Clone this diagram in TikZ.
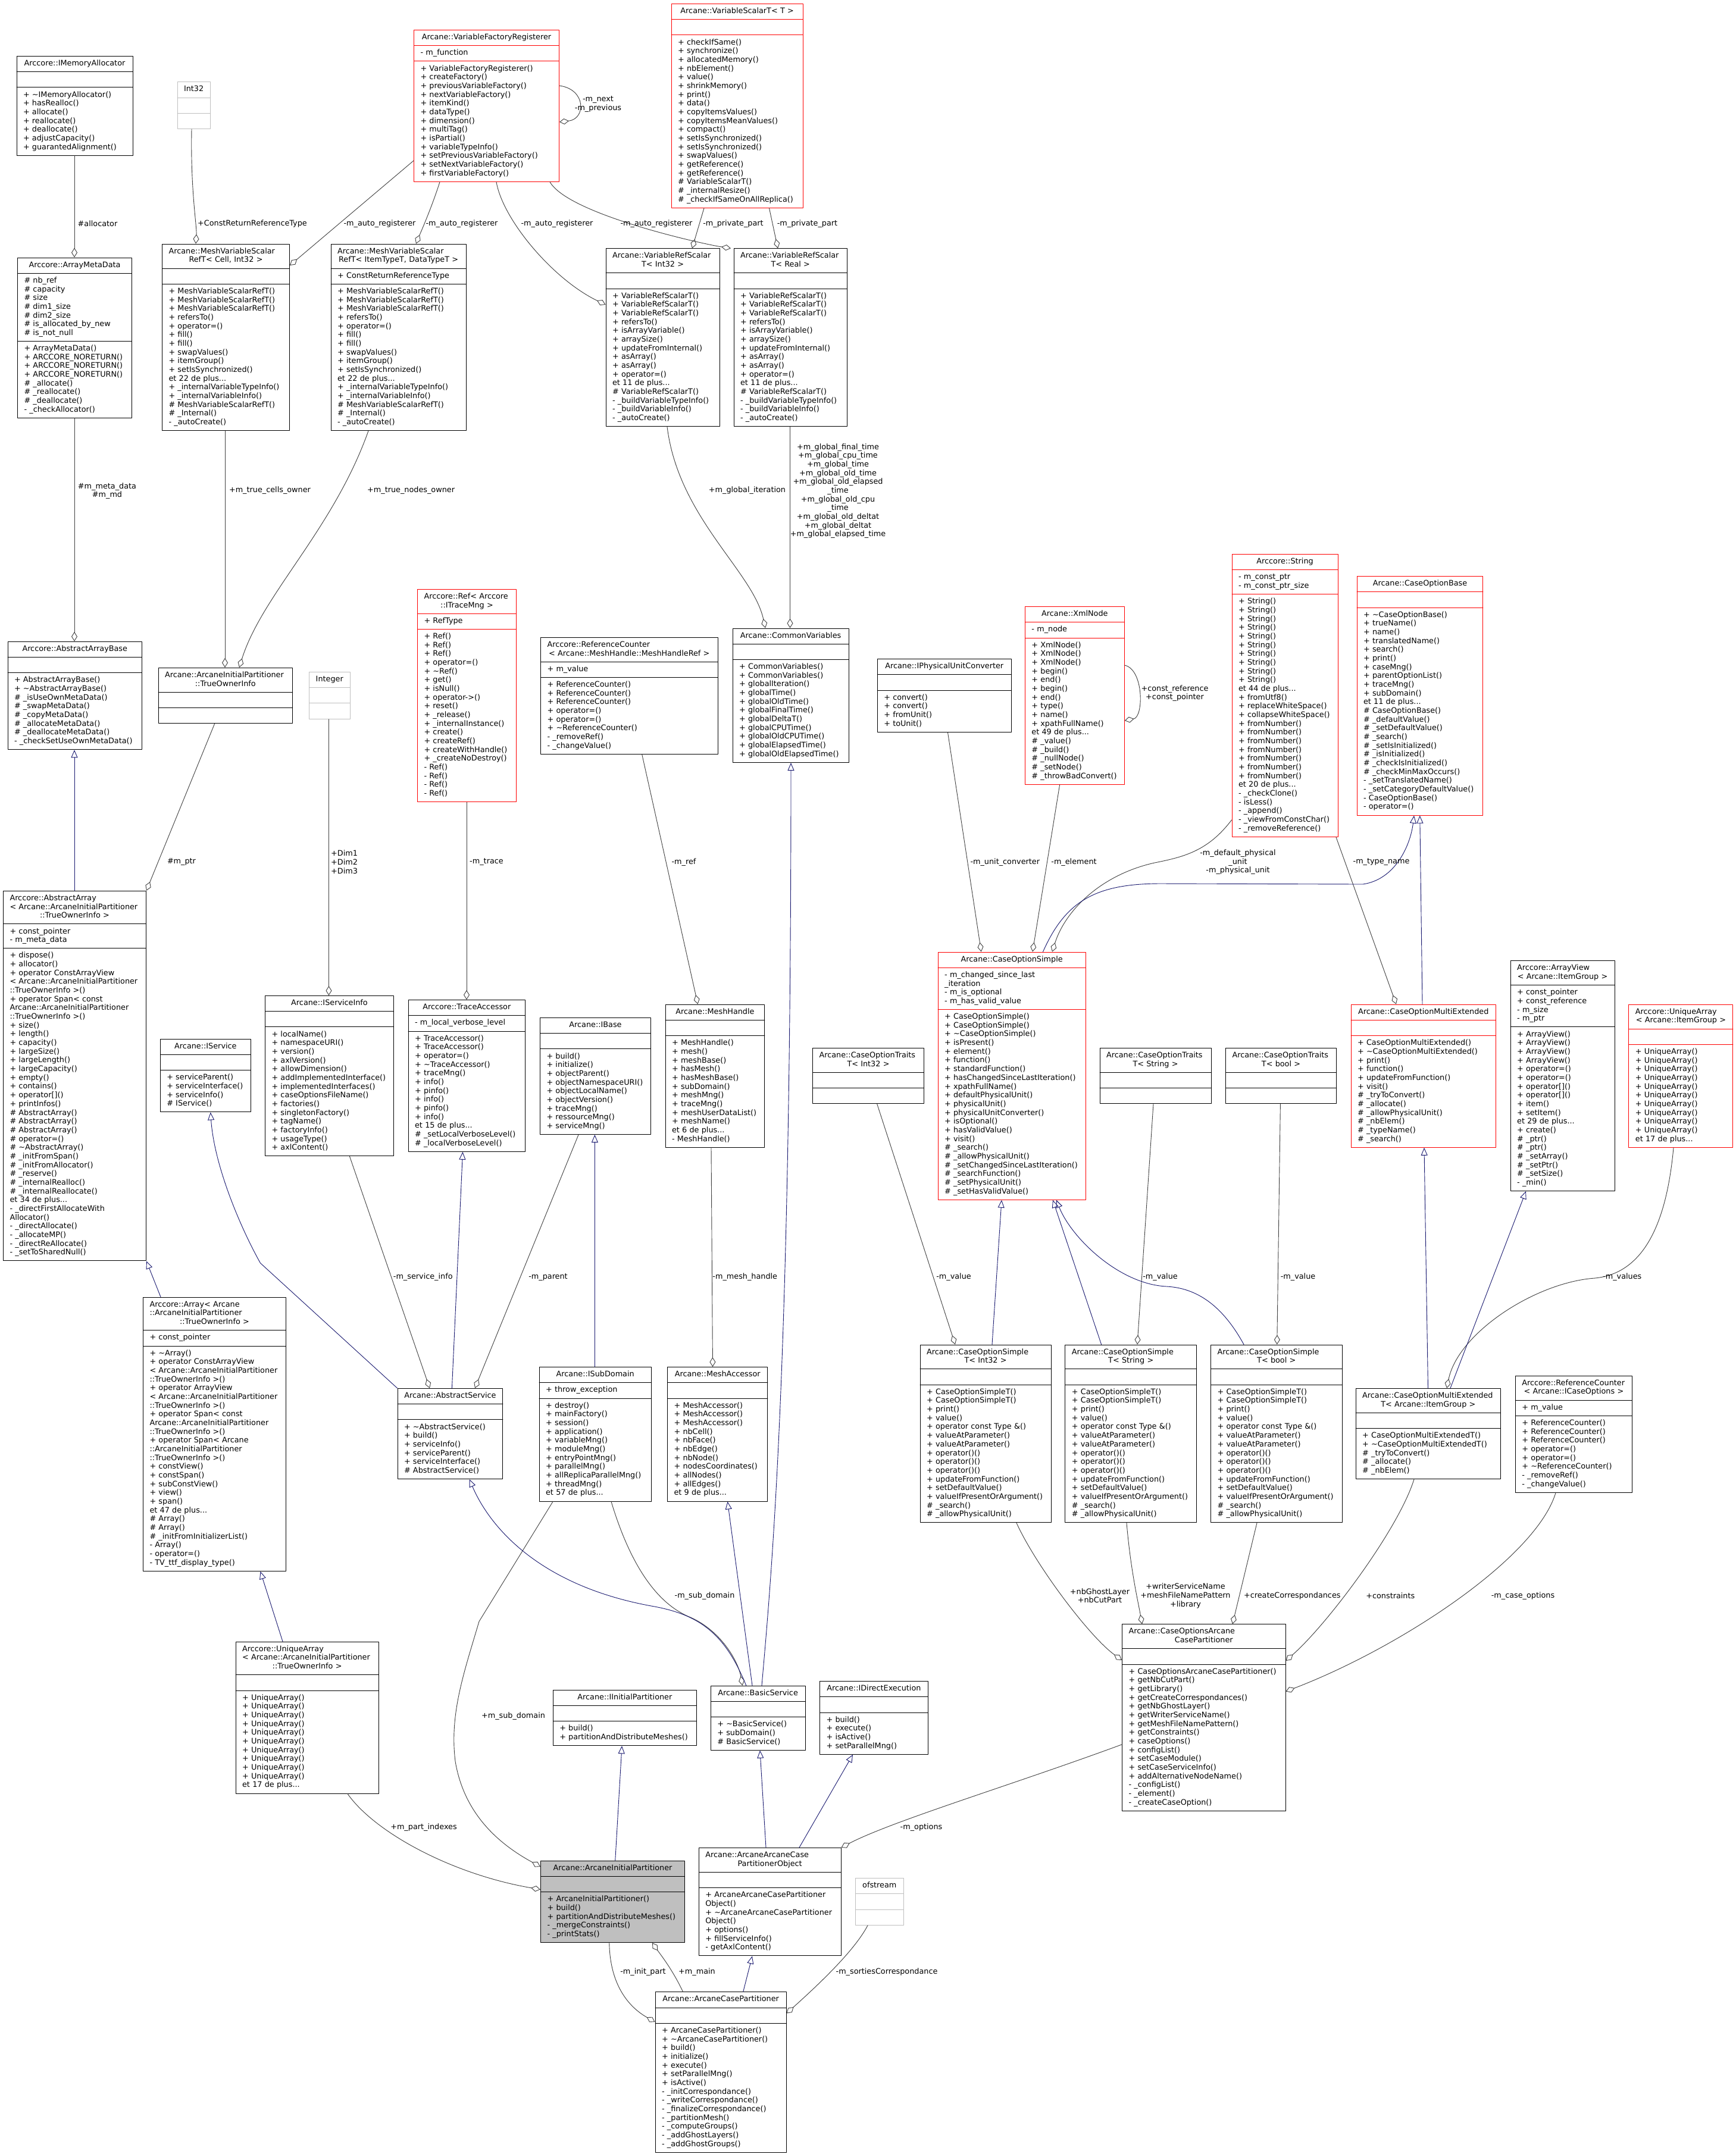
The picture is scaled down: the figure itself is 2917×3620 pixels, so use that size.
\documentclass[tikz,border=0pt]{standalone}
\usepackage{fontspec}
\setmainfont{DejaVu Sans}
\usepackage{tikz}
\usetikzlibrary{shapes.multipart,arrows.meta}
\definecolor{clsred}{HTML}{FF0000}
\definecolor{extgray}{HTML}{BFBFBF}
\definecolor{mainfill}{HTML}{BFBFBF}
\definecolor{edgegray}{HTML}{404040}
\definecolor{inhblue}{HTML}{191970}
\newcommand{\clsfont}{\fontsize{12.8}{14.67}\selectfont}
\newcommand{\tld}{\textasciitilde}
% title lines that doxygen left-justifies
\newcommand{\lcr}{\hfill\null\\}
\newcommand{\titlefmt}{\centering\leftskip=7pt plus 1fil\rightskip=7pt plus 1fil\relax}
\newcommand{\bodyfmt}{\raggedright\leftskip=7pt\rightskip=0pt plus 1fil\relax}
% one class box: [style]{name}{top left}{width}{title}{attributes}{methods}
% (the \par closes each part while its own layout is still in force)
\newcommand{\umlclass}[7][clsbox]{%
  \pgfmathsetmacro{\boxtw}{#4-8}%
  \node[#1, text width=\boxtw pt] (#2) at (#3)
    {\titlefmt\strut#5\strut\par
     \nodepart{two}\bodyfmt\strut#6\strut\par
     \nodepart{three}\bodyfmt\strut#7\strut\par};}
% member lists shared by several boxes
\newcommand{\mvsrops}{+ MeshVariableScalarRefT()\\+ MeshVariableScalarRefT()\\+ MeshVariableScalarRefT()\\+ refersTo()\\+ operator=()\\+ fill()\\+ fill()\\+ swapValues()\\+ itemGroup()\\+ setIsSynchronized()\\et 22 de plus...\\+ \_internalVariableTypeInfo()\\+ \_internalVariableInfo()\\\# MeshVariableScalarRefT()\\\# \_Internal()\\- \_autoCreate()}
\newcommand{\vrsops}{+ VariableRefScalarT()\\+ VariableRefScalarT()\\+ VariableRefScalarT()\\+ refersTo()\\+ isArrayVariable()\\+ arraySize()\\+ updateFromInternal()\\+ asArray()\\+ asArray()\\+ operator=()\\et 11 de plus...\\\# VariableRefScalarT()\\- \_buildVariableTypeInfo()\\- \_buildVariableInfo()\\- \_autoCreate()}
\newcommand{\rcops}{+ ReferenceCounter()\\+ ReferenceCounter()\\+ ReferenceCounter()\\+ operator=()\\+ operator=()\\+ \tld ReferenceCounter()\\- \_removeRef()\\- \_changeValue()}
\newcommand{\costops}{+ CaseOptionSimpleT()\\+ CaseOptionSimpleT()\\+ print()\\+ value()\\+ operator const Type \&()\\+ valueAtParameter()\\+ valueAtParameter()\\+ operator()()\\+ operator()()\\+ operator()()\\+ updateFromFunction()\\+ setDefaultValue()\\+ valueIfPresentOrArgument()\\\# \_search()\\\# \_allowPhysicalUnit()}
\newcommand{\uaops}{+ UniqueArray()\\+ UniqueArray()\\+ UniqueArray()\\+ UniqueArray()\\+ UniqueArray()\\+ UniqueArray()\\+ UniqueArray()\\+ UniqueArray()\\+ UniqueArray()\\+ UniqueArray()\\et 17 de plus...}
\tikzset{
  every picture/.style={line join=round, line cap=round},
  clsbox/.style={rectangle split, rectangle split parts=3, draw=black, fill=white,
    line width=1pt, anchor=north west, inner xsep=4pt, inner ysep=5.3pt, font=\clsfont},
  redbox/.style={clsbox, draw=clsred},
  extbox/.style={clsbox, draw=extgray},
  mainbox/.style={clsbox, fill=mainfill},
  lbl/.style={font=\clsfont, inner sep=0pt, align=center},
  agg/.style={draw=edgegray, line width=0.9pt, -{Diamond[open, length=16pt, width=10pt]}},
  inh/.style={draw=inhblue, line width=0.9pt, -{Triangle[open, length=13pt, width=11pt]}},
}
\begin{document}
\begin{tikzpicture}[x=1pt, y=-1pt]
\useasboundingbox (0,0) rectangle (2917,3620);
\fill[white] (0,0) rectangle (2917,3620);

% top rows
\umlclass{imalloc}{27.5,93.9}{195}{Arccore::IMemoryAllocator}{}%
  {+ \tld IMemoryAllocator()\\+ hasRealloc()\\+ allocate()\\+ reallocate()\\+ deallocate()\\+ adjustCapacity()\\+ guarantedAlignment()}
\umlclass[extbox]{int32}{297.5,137.3}{55}{Int32}{}{}
\umlclass[redbox]{vfr}{695,49.9}{244}{Arcane::VariableFactoryRegisterer}{- m\_function}%
  {+ VariableFactoryRegisterer()\\+ createFactory()\\+ previousVariableFactory()\\+ nextVariableFactory()\\+ itemKind()\\+ dataType()\\+ dimension()\\+ multiTag()\\+ isPartial()\\+ variableTypeInfo()\\+ setPreviousVariableFactory()\\+ setNextVariableFactory()\\+ firstVariableFactory()}
\umlclass[redbox]{vst}{1127.5,5.9}{221.25}{Arcane::VariableScalarT<~T~>}{}%
  {+ checkIfSame()\\+ synchronize()\\+ allocatedMemory()\\+ nbElement()\\+ value()\\+ shrinkMemory()\\+ print()\\+ data()\\+ copyItemsValues()\\+ copyItemsMeanValues()\\+ compact()\\+ setIsSynchronized()\\+ setIsSynchronized()\\+ swapValues()\\+ getReference()\\+ getReference()\\\# VariableScalarT()\\\# \_internalResize()\\\# \_checkIfSameOnAllReplica()}
\umlclass{amd}{29,432.5}{192}{Arccore::ArrayMetaData}%
  {\# nb\_ref\\\# capacity\\\# size\\\# dim1\_size\\\# dim2\_size\\\# is\_allocated\_by\_new\\\# is\_not\_null}%
  {+ ArrayMetaData()\\+ ARCCORE\_NORETURN()\\+ ARCCORE\_NORETURN()\\+ ARCCORE\_NORETURN()\\\# \_allocate()\\\# \_reallocate()\\\# \_deallocate()\\- \_checkAllocator()}
\umlclass{mvsrcell}{272,409.6}{214}{Arcane::MeshVariableScalar\lcr RefT<~Cell,~Int32~>}{}{\mvsrops}
\umlclass{mvsrgen}{555.6,409.6}{227}{Arcane::MeshVariableScalar\lcr RefT<~ItemTypeT,~DataTypeT~>}{+ ConstReturnReferenceType}{\mvsrops}
\umlclass{vrsint}{1017.5,417.3}{191.25}{Arcane::VariableRefScalar\lcr T<~Int32~>}{}{\vrsops}
\umlclass{vrsreal}{1232.5,417.3}{190.5}{Arcane::VariableRefScalar\lcr T<~Real~>}{}{\vrsops}

% middle rows
\umlclass{aab}{12.5,1077.8}{225.5}{Arccore::AbstractArrayBase}{}%
  {+ AbstractArrayBase()\\+ \tld AbstractArrayBase()\\\# \_isUseOwnMetaData()\\\# \_swapMetaData()\\\# \_copyMetaData()\\\# \_allocateMetaData()\\\# \_deallocateMetaData()\\- \_checkSetUseOwnMetaData()}
\umlclass{toi}{265.6,1121.8}{225.4}{Arcane::ArcaneInitialPartitioner\lcr ::TrueOwnerInfo}{}{}
\umlclass[extbox]{integer}{519,1128.9}{68.5}{Integer}{}{}
\umlclass[redbox]{ref}{701,989.8}{166}{Arccore::Ref<~Arccore\lcr ::ITraceMng~>}{+ RefType}%
  {+ Ref()\\+ Ref()\\+ Ref()\\+ operator=()\\+ \tld Ref()\\+ get()\\+ isNull()\\+ operator->()\\+ reset()\\+ \_release()\\+ \_internalInstance()\\+ create()\\+ createRef()\\+ createWithHandle()\\+ \_createNoDestroy()\\- Ref()\\- Ref()\\- Ref()\\- Ref()}
\umlclass{rcmesh}{908,1070.8}{297.6}{Arccore::ReferenceCounter\lcr <~Arcane::MeshHandle::MeshHandleRef~>}{+ m\_value}{\rcops}
\umlclass{cv}{1230.6,1055.5}{195}{Arcane::CommonVariables}{}%
  {+ CommonVariables()\\+ CommonVariables()\\+ globalIteration()\\+ globalTime()\\+ globalOldTime()\\+ globalFinalTime()\\+ globalDeltaT()\\+ globalCPUTime()\\+ globalOldCPUTime()\\+ globalElapsedTime()\\+ globalOldElapsedTime()}
\umlclass{ipuc}{1473.75,1107}{225}{Arcane::IPhysicalUnitConverter}{}%
  {+ convert()\\+ convert()\\+ fromUnit()\\+ toUnit()}
\umlclass[redbox]{xml}{1721.9,1019.1}{166.85}{Arcane::XmlNode}{- m\_node}%
  {+ XmlNode()\\+ XmlNode()\\+ XmlNode()\\+ begin()\\+ end()\\+ begin()\\+ end()\\+ type()\\+ name()\\+ xpathFullName()\\et 49 de plus...\\\# \_value()\\\# \_build()\\\# \_nullNode()\\\# \_setNode()\\\# \_throwBadConvert()}
\umlclass[redbox]{str}{2069.5,931.1}{178.1}{Arccore::String}{- m\_const\_ptr\\- m\_const\_ptr\_size}%
  {+ String()\\+ String()\\+ String()\\+ String()\\+ String()\\+ String()\\+ String()\\+ String()\\+ String()\\+ String()\\et 44 de plus...\\+ fromUtf8()\\+ replaceWhiteSpace()\\+ collapseWhiteSpace()\\+ fromNumber()\\+ fromNumber()\\+ fromNumber()\\+ fromNumber()\\+ fromNumber()\\+ fromNumber()\\+ fromNumber()\\et 20 de plus...\\- \_checkClone()\\- isLess()\\- \_append()\\- \_viewFromConstChar()\\- \_removeReference()}
\umlclass[redbox]{cob}{2279.5,968.1}{211.9}{Arcane::CaseOptionBase}{}%
  {+ \tld CaseOptionBase()\\+ trueName()\\+ name()\\+ translatedName()\\+ search()\\+ print()\\+ caseMng()\\+ parentOptionList()\\+ traceMng()\\+ subDomain()\\et 11 de plus...\\\# CaseOptionBase()\\\# \_defaultValue()\\\# \_setDefaultValue()\\\# \_search()\\\# \_setIsInitialized()\\\# \_isInitialized()\\\# \_checkIsInitialized()\\\# \_checkMinMaxOccurs()\\- \_setTranslatedName()\\- \_setCategoryDefaultValue()\\- CaseOptionBase()\\- operator=()}
\umlclass{aa}{5,1496.8}{240}{Arccore::AbstractArray\lcr <~Arcane::ArcaneInitialPartitioner\lcr ::TrueOwnerInfo~>}{+ const\_pointer\\- m\_meta\_data}%
  {+ dispose()\\+ allocator()\\+ operator ConstArrayView\\< Arcane::ArcaneInitialPartitioner\\::TrueOwnerInfo >()\\+ operator Span< const\\Arcane::ArcaneInitialPartitioner\\::TrueOwnerInfo >()\\+ size()\\+ length()\\+ capacity()\\+ largeSize()\\+ largeLength()\\+ largeCapacity()\\+ empty()\\+ contains()\\+ operator[]()\\+ printInfos()\\\# AbstractArray()\\\# AbstractArray()\\\# AbstractArray()\\\# operator=()\\\# \tld AbstractArray()\\\# \_initFromSpan()\\\# \_initFromAllocator()\\\# \_reserve()\\\# \_internalRealloc()\\\# \_internalReallocate()\\et 34 de plus...\\- \_directFirstAllocateWith\\Allocator()\\- \_directAllocate()\\- \_allocateMP()\\- \_directReAllocate()\\- \_setToSharedNull()}
\umlclass{isi}{445,1672.9}{216}{Arcane::IServiceInfo}{}%
  {+ localName()\\+ namespaceURI()\\+ version()\\+ axlVersion()\\+ allowDimension()\\+ addImplementedInterface()\\+ implementedInterfaces()\\+ caseOptionsFileName()\\+ factories()\\+ singletonFactory()\\+ tagName()\\+ factoryInfo()\\+ usageType()\\+ axlContent()}
\umlclass{ta}{685.6,1680}{196.4}{Arccore::TraceAccessor}{- m\_local\_verbose\_level}%
  {+ TraceAccessor()\\+ TraceAccessor()\\+ operator=()\\+ \tld TraceAccessor()\\+ traceMng()\\+ info()\\+ pinfo()\\+ info()\\+ pinfo()\\+ info()\\et 15 de plus...\\\# \_setLocalVerboseLevel()\\\# \_localVerboseLevel()}
\umlclass{isrv}{268.75,1745.6}{152.25}{Arcane::IService}{}%
  {+ serviceParent()\\+ serviceInterface()\\+ serviceInfo()\\\# IService()}
\umlclass{ibase}{907,1709.9}{186}{Arcane::IBase}{}%
  {+ build()\\+ initialize()\\+ objectParent()\\+ objectNamespaceURI()\\+ objectLocalName()\\+ objectVersion()\\+ traceMng()\\+ ressourceMng()\\+ serviceMng()}
\umlclass{mh}{1117.5,1687.6}{166.9}{Arcane::MeshHandle}{}%
  {+ MeshHandle()\\+ mesh()\\+ meshBase()\\+ hasMesh()\\+ hasMeshBase()\\+ subDomain()\\+ meshMng()\\+ traceMng()\\+ meshUserDataList()\\+ meshName()\\et 6 de plus...\\- MeshHandle()}
\umlclass[redbox]{cos}{1575.6,1599.5}{248.15}{Arcane::CaseOptionSimple}%
  {- m\_changed\_since\_last\\\_iteration\\- m\_is\_optional\\- m\_has\_valid\_value}%
  {+ CaseOptionSimple()\\+ CaseOptionSimple()\\+ \tld CaseOptionSimple()\\+ isPresent()\\+ element()\\+ function()\\+ standardFunction()\\+ hasChangedSinceLastIteration()\\+ xpathFullName()\\+ defaultPhysicalUnit()\\+ physicalUnit()\\+ physicalUnitConverter()\\+ isOptional()\\+ hasValidValue()\\+ visit()\\\# \_search()\\\# \_allowPhysicalUnit()\\\# \_setChangedSinceLastIteration()\\\# \_searchFunction()\\\# \_setPhysicalUnit()\\\# \_setHasValidValue()}
\umlclass{cotint}{1365,1760.9}{187}{Arcane::CaseOptionTraits\lcr T<~Int32~>}{}{}
\umlclass{cotstr}{1847.5,1760.9}{187}{Arcane::CaseOptionTraits\lcr T<~String~>}{}{}
\umlclass{cotbool}{2059,1760.9}{186}{Arcane::CaseOptionTraits\lcr T<~bool~>}{}{}
\umlclass[redbox]{come}{2269.5,1687.6}{243.5}{Arcane::CaseOptionMultiExtended}{}%
  {+ CaseOptionMultiExtended()\\+ \tld CaseOptionMultiExtended()\\+ print()\\+ function()\\+ updateFromFunction()\\+ visit()\\\# \_tryToConvert()\\\# \_allocate()\\\# \_allowPhysicalUnit()\\\# \_nbElem()\\\# \_typeName()\\\# \_search()}
\umlclass{av}{2537.6,1614.2}{175}{Arccore::ArrayView\lcr <~Arcane::ItemGroup~>}%
  {+ const\_pointer\\+ const\_reference\\- m\_size\\- m\_ptr}%
  {+ ArrayView()\\+ ArrayView()\\+ ArrayView()\\+ ArrayView()\\+ operator=()\\+ operator=()\\+ operator[]()\\+ operator[]()\\+ item()\\+ setItem()\\et 29 de plus...\\+ create()\\\# \_ptr()\\\# \_ptr()\\\# \_setArray()\\\# \_setPtr()\\\# \_setSize()\\- \_min()}
\umlclass[redbox]{uaig}{2736.4,1687.6}{175}{Arccore::UniqueArray\lcr <~Arcane::ItemGroup~>}{}{\uaops}

% lower rows
\umlclass{arr}{240,2179.7}{240}{Arccore::Array<~Arcane\lcr ::ArcaneInitialPartitioner\lcr ::TrueOwnerInfo~>}{+ const\_pointer}%
  {+ \tld Array()\\+ operator ConstArrayView\\< Arcane::ArcaneInitialPartitioner\\::TrueOwnerInfo >()\\+ operator ArrayView\\< Arcane::ArcaneInitialPartitioner\\::TrueOwnerInfo >()\\+ operator Span< const\\Arcane::ArcaneInitialPartitioner\\::TrueOwnerInfo >()\\+ operator Span< Arcane\\::ArcaneInitialPartitioner\\::TrueOwnerInfo >()\\+ constView()\\+ constSpan()\\+ subConstView()\\+ view()\\+ span()\\et 47 de plus...\\\# Array()\\\# Array()\\\# \_initFromInitializerList()\\- Array()\\- operator=()\\- TV\_ttf\_display\_type()}
\umlclass{as}{667.5,2332.9}{176.9}{Arcane::AbstractService}{}%
  {+ \tld AbstractService()\\+ build()\\+ serviceInfo()\\+ serviceParent()\\+ serviceInterface()\\\# AbstractService()}
\umlclass{isd}{905.6,2297}{188.15}{Arcane::ISubDomain}{+ throw\_exception}%
  {+ destroy()\\+ mainFactory()\\+ session()\\+ application()\\+ variableMng()\\+ moduleMng()\\+ entryPointMng()\\+ parallelMng()\\+ allReplicaParallelMng()\\+ threadMng()\\et 57 de plus...}
\umlclass{ma}{1121,2297}{168.4}{Arcane::MeshAccessor}{}%
  {+ MeshAccessor()\\+ MeshAccessor()\\+ MeshAccessor()\\+ nbCell()\\+ nbFace()\\+ nbEdge()\\+ nbNode()\\+ nodesCoordinates()\\+ allNodes()\\+ allEdges()\\et 9 de plus...}
\umlclass{cosint}{1545.6,2259.5}{220}{Arcane::CaseOptionSimple\lcr T<~Int32~>}{}{\costops}
\umlclass{cosstr}{1789.4,2259.5}{220.6}{Arcane::CaseOptionSimple\lcr T<~String~>}{}{\costops}
\umlclass{cosbool}{2034,2259.5}{220.5}{Arcane::CaseOptionSimple\lcr T<~bool~>}{}{\costops}
\umlclass{comet}{2277.6,2332.9}{243.4}{Arcane::CaseOptionMultiExtended\lcr T<~Arcane::ItemGroup~>}{}%
  {+ CaseOptionMultiExtendedT()\\+ \tld CaseOptionMultiExtendedT()\\\# \_tryToConvert()\\\# \_allocate()\\\# \_nbElem()}
\umlclass{rcopt}{2545.75,2311.7}{196.25}{Arccore::ReferenceCounter\lcr <~Arcane::ICaseOptions~>}{+ m\_value}{\rcops}
\umlclass{uatoi}{395.6,2758.7}{240}{Arccore::UniqueArray\lcr <~Arcane::ArcaneInitialPartitioner\lcr ::TrueOwnerInfo~>}{}{\uaops}
\umlclass{coacp}{1885,2729.3}{274.5}{Arcane::CaseOptionsArcane\lcr CasePartitioner}{}%
  {+ CaseOptionsArcaneCasePartitioner()\\+ getNbCutPart()\\+ getLibrary()\\+ getCreateCorrespondances()\\+ getNbGhostLayer()\\+ getWriterServiceName()\\+ getMeshFileNamePattern()\\+ getConstraints()\\+ caseOptions()\\+ configList()\\+ setCaseModule()\\+ setCaseServiceInfo()\\+ addAlternativeNodeName()\\- \_configList()\\- \_element()\\- \_createCaseOption()}
\umlclass{iip}{928.75,2839.7}{241.25}{Arcane::IInitialPartitioner}{}%
  {+ build()\\+ partitionAndDistributeMeshes()}
\umlclass{bs}{1193.75,2832.6}{158.75}{Arcane::BasicService}{}%
  {+ \tld BasicService()\\+ subDomain()\\\# BasicService()}
\umlclass{ide}{1377,2825}{181.75}{Arcane::IDirectExecution}{}%
  {+ build()\\+ execute()\\+ isActive()\\+ setParallelMng()}
\umlclass[mainbox]{aip}{908,3126.6}{242}{Arcane::ArcaneInitialPartitioner}{}%
  {+ ArcaneInitialPartitioner()\\+ build()\\+ partitionAndDistributeMeshes()\\- \_mergeConstraints()\\- \_printStats()}
\umlclass{aacpo}{1173.75,3104.9}{238.75}{Arcane::ArcaneArcaneCase\lcr PartitionerObject}{}%
  {+ ArcaneArcaneCasePartitioner\\Object()\\+ \tld ArcaneArcaneCasePartitioner\\Object()\\+ options()\\+ fillServiceInfo()\\- getAxlContent()}
\umlclass[extbox]{ofs}{1437,3156}{80.5}{ofstream}{}{}
\umlclass{acp}{1100.6,3347.3}{220}{Arcane::ArcaneCasePartitioner}{}%
  {+ ArcaneCasePartitioner()\\+ \tld ArcaneCasePartitioner()\\+ build()\\+ initialize()\\+ execute()\\+ setParallelMng()\\+ isActive()\\- \_initCorrespondance()\\- \_writeCorrespondance()\\- \_finalizeCorrespondance()\\- \_partitionMesh()\\- \_computeGroups()\\- \_addGhostLayers()\\- \_addGhostGroups()}

% members: the diamond sits on the class that owns the member
\draw[agg] (125,0 |- imalloc.south) -- (125,0 |- amd.north);
\draw[agg] (322,0 |- int32.south) .. controls (320,320) and (331,380) .. (329,0 |- mvsrcell.north);
\draw[agg] (vfr.west |- 0,270) -- (mvsrcell.east |- 0,446);
\draw[agg] (739,0 |- vfr.south) .. controls (725,350) and (705,395) .. (699,0 |- mvsrgen.north);
\draw[agg] (834,0 |- vfr.south) .. controls (845,370) and (930,470) .. (vrsint.west |- 0,512);
\draw[agg] (924,0 |- vfr.south) .. controls (955,360) and (1180,410) .. (1228,0 |- vrsreal.north);
\draw[agg] (vfr.east |- 0,144) .. controls (985,150) and (985,200) .. (vfr.east |- 0,205);
\draw[agg] (1183,0 |- vst.south) -- (1163,0 |- vrsint.north);
\draw[agg] (1292.5,0 |- vst.south) -- (1307,0 |- vrsreal.north);
\draw[agg] (1121,0 |- vrsint.south) .. controls (1140,870) and (1265,960) .. (1286,0 |- cv.north);
\draw[agg] (1327.5,0 |- vrsreal.south) -- (1327.5,0 |- cv.north);
\draw[agg] (125,0 |- amd.south) -- (125,0 |- aab.north);
\draw[agg] (378,0 |- mvsrcell.south) -- (378,0 |- toi.north);
\draw[agg] (619,0 |- mvsrgen.south) .. controls (560,890) and (440,1000) .. (402,0 |- toi.north);
\draw[agg] (360.6,0 |- toi.south) -- (aa.north east);
\draw[agg] (552.5,0 |- integer.south) -- (552.5,0 |- isi.north);
\draw[agg] (784,0 |- ref.south) -- (784,0 |- ta.north);
\draw[agg] (1078.75,0 |- rcmesh.south) -- (1172.5,0 |- mh.north);
\draw[agg] (1592.5,0 |- ipuc.south) -- (1648.75,0 |- cos.north);
\draw[agg] (1780.6,0 |- xml.south) -- (1735,0 |- cos.north);
\draw[agg] (xml.east |- 0,1118) .. controls (1922,1125) and (1922,1205) .. (xml.east |- 0,1211);
\draw[agg] (str.west |- 0,1378) .. controls (2030,1430) and (1990,1440) .. (1940,1450)
  .. controls (1850,1470) and (1790,1530) .. (1768,0 |- cos.north);
\draw[agg] (2245,0 |- str.south) -- (2346,0 |- come.north);
\draw[agg] (587.5,0 |- isi.south) -- (722,0 |- as.north);
\draw[agg] (972,0 |- ibase.south) -- (798,0 |- as.north);
\draw[agg] (1195,0 |- mh.south) -- (1197.5,0 |- ma.north);
\draw[agg] (1473.75,0 |- cotint.south) -- (1605,0 |- cosint.north);
\draw[agg] (1938,0 |- cotstr.south) -- (1911,0 |- cosstr.north);
\draw[agg] (2151.4,0 |- cotbool.south) -- (2145.75,0 |- cosbool.north);
\draw[agg] (2812,0 |- uaig.south) .. controls (2800,2060) and (2760,2140) .. (2680,2148)
  .. controls (2580,2155) and (2450,2240) .. (2431,0 |- comet.north);
\draw[agg] (1027,0 |- isd.south) .. controls (1050,2600) and (1090,2690) .. (1160,2718)
  .. controls (1210,2740) and (1240,2790) .. (1247.5,0 |- bs.north);
\draw[agg] (929,0 |- isd.south) -- (805,2725) .. controls (780,2810) and (755,2880) .. (765,2960)
  .. controls (780,3050) and (840,3100) .. (aip.west |- 0,3137);
\draw[agg] (1708,0 |- cosint.south) .. controls (1740,2630) and (1830,2750) .. (coacp.west |- 0,2790);
\draw[agg] (1893,0 |- cosstr.south) .. controls (1900,2640) and (1912,2690) .. (1919,0 |- coacp.north);
\draw[agg] (2112,0 |- cosbool.south) -- (2071,0 |- coacp.north);
\draw[agg] (2376,0 |- comet.south) .. controls (2350,2570) and (2230,2730) .. (coacp.east |- 0,2791);
\draw[agg] (2614,0 |- rcopt.south) .. controls (2580,2620) and (2350,2770) .. (coacp.east |- 0,2842.6);
\draw[agg] (584,0 |- uatoi.south) .. controls (630,3080) and (760,3150) .. (aip.west |- 0,3175.4);
\draw[agg] (coacp.west |- 0,2931.8) .. controls (1700,3000) and (1500,3060) .. (aacpo.north east);
\draw[agg] (1023.75,0 |- aip.south) .. controls (1025,3340) and (1060,3375) .. (acp.west |- 0,3398);
\draw[agg] (1147.5,0 |- acp.north) .. controls (1130,3310) and (1110,3285) .. (1096,0 |- aip.south);
\draw[agg] (1458,0 |- ofs.south) .. controls (1435,3280) and (1370,3340) .. (acp.east |- 0,3383.6);

% inheritance: the open triangle sits on the base class
\draw[inh] (125,0 |- aa.north) -- (125,0 |- aab.south);
\draw[inh] (270,0 |- arr.north) -- (aa.south east);
\draw[inh] (475,0 |- uatoi.north) -- (437.5,0 |- arr.south);
\draw[inh] (as.north west) -- (437.5,2122.7) .. controls (405,2065) and (360,1960) .. (353.75,0 |- isrv.south);
\draw[inh] (759.4,0 |- as.north) -- (777.5,0 |- ta.south);
\draw[inh] (999.4,0 |- isd.north) -- (999.4,0 |- ibase.south);
\draw[inh] (1253.75,0 |- bs.north) .. controls (1220,2750) and (1180,2715) .. (1100,2700)
  .. controls (900,2665) and (820,2560) .. (788.75,0 |- as.south);
\draw[inh] (1264,0 |- bs.north) -- (1222.5,0 |- ma.south);
\draw[inh] (1280,0 |- bs.north) .. controls (1296,2650) and (1329,2300) .. (1329,0 |- cv.south);
\draw[inh] (1752.5,0 |- cos.north) .. controls (1790,1515) and (1840,1485) .. (1950,1485) -- (2290,1486)
  .. controls (2345,1478) and (2370,1420) .. (2376,0 |- cob.south);
\draw[inh] (2390,0 |- come.north) -- (2385.75,0 |- cob.south);
\draw[inh] (1667,0 |- cosint.north) -- (1683,0 |- cos.south);
\draw[inh] (1850.6,0 |- cosstr.north) -- (1769,0 |- cos.south);
\draw[inh] (2090,0 |- cosbool.north) .. controls (2060,2205) and (2020,2165) .. (1960,2162)
  .. controls (1880,2158) and (1800,2080) .. (1775,0 |- cos.south);
\draw[inh] (2399.5,0 |- comet.north) -- (2393,0 |- come.south);
\draw[inh] (2437,0 |- comet.north) -- (2564,0 |- av.south);
\draw[inh] (1033.75,0 |- aip.north) -- (1045,0 |- iip.south);
\draw[inh] (1287,0 |- aacpo.north) -- (1277,0 |- bs.south);
\draw[inh] (1343,0 |- aacpo.north) -- (1433,0 |- ide.south);
\draw[inh] (1248.75,0 |- acp.north) -- (1264,0 |- aacpo.south);

% member names
\node[lbl] (lalloc) at (164,376) {\#allocator};
\node[lbl] (lcrrt) at (424,376) {+ConstReturnReferenceType};
\node[lbl] (lauto1) at (638,376) {-m\_auto\_registerer};
\node[lbl] (lauto2) at (776,376) {-m\_auto\_registerer};
\node[lbl] (lauto3) at (936,376) {-m\_auto\_registerer};
\node[lbl] (lauto4) at (1103,376) {-m\_auto\_registerer};
\node[lbl] (lpriv1) at (1232,376) {-m\_private\_part};
\node[lbl] (lpriv2) at (1356.5,376) {-m\_private\_part};
\node[lbl] (lnext) at (1005,175) {-m\_next\\-m\_previous};
\node[lbl] (lmeta) at (180,825) {\#m\_meta\_data\\\#m\_md};
\node[lbl] (lcells) at (453.5,824.5) {+m\_true\_cells\_owner};
\node[lbl] (lnodes) at (690.6,824.5) {+m\_true\_nodes\_owner};
\node[lbl] (liter) at (1255.5,824.5) {+m\_global\_iteration};
\node[lbl] (lglobal) at (1408,825) {+m\_global\_final\_time\\+m\_global\_cpu\_time\\+m\_global\_time\\+m\_global\_old\_time\\+m\_global\_old\_elapsed\\\_time\\+m\_global\_old\_cpu\\\_time\\+m\_global\_old\_deltat\\+m\_global\_deltat\\+m\_global\_elapsed\_time};
\node[lbl] (lptr) at (305,1448.7) {\#m\_ptr};
\node[lbl, anchor=west, align=left] (ldim) at (556,1448.7) {+Dim1\\+Dim2\\+Dim3};
\node[lbl] (ltrace) at (817.5,1448.7) {-m\_trace};
\node[lbl] (lref) at (1149,1448.7) {-m\_ref};
\node[lbl] (lunit) at (1688.75,1448.7) {-m\_unit\_converter};
\node[lbl] (lelem) at (1804.5,1448.7) {-m\_element};
\node[lbl] (lconst) at (1974,1165) {+const\_reference\\+const\_pointer};
\node[lbl] (lphys) at (2080,1448.7) {-m\_default\_physical\\\_unit\\-m\_physical\_unit};
\node[lbl] (ltype) at (2321,1448.7) {-m\_type\_name};
\node[lbl] (lsinfo) at (710.75,2146.2) {-m\_service\_info};
\node[lbl] (lparent) at (921,2146.2) {-m\_parent};
\node[lbl] (lmhandle) at (1251.75,2146.2) {-m\_mesh\_handle};
\node[lbl] (lval1) at (1602.5,2146.2) {-m\_value};
\node[lbl] (lval2) at (1949.5,2146.2) {-m\_value};
\node[lbl] (lval3) at (2181,2146.2) {-m\_value};
\node[lbl] (lvals) at (2725.75,2146.2) {-m\_values};
\node[lbl] (lsub1) at (1184,2682) {-m\_sub\_domain};
\node[lbl] (lghost) at (1848,2681.7) {+nbGhostLayer\\+nbCutPart};
\node[lbl] (lwriter) at (1992,2682) {+writerServiceName\\+meshFileNamePattern\\+library};
\node[lbl] (lcorr) at (2171.3,2682) {+createCorrespondances};
\node[lbl] (lcons) at (2336.3,2682) {+constraints};
\node[lbl] (lcase) at (2559,2682) {-m\_case\_options};
\node[lbl] (lsub2) at (862.5,2884.3) {+m\_sub\_domain};
\node[lbl] (lpart) at (712,3071.5) {+m\_part\_indexes};
\node[lbl] (lopts) at (1548,3071.5) {-m\_options};
\node[lbl] (linit) at (1080.5,3314.3) {-m\_init\_part};
\node[lbl] (lmain) at (1171,3314.3) {+m\_main};
\node[lbl] (lsort) at (1490,3314.3) {-m\_sortiesCorrespondance};
\end{tikzpicture}
\end{document}
